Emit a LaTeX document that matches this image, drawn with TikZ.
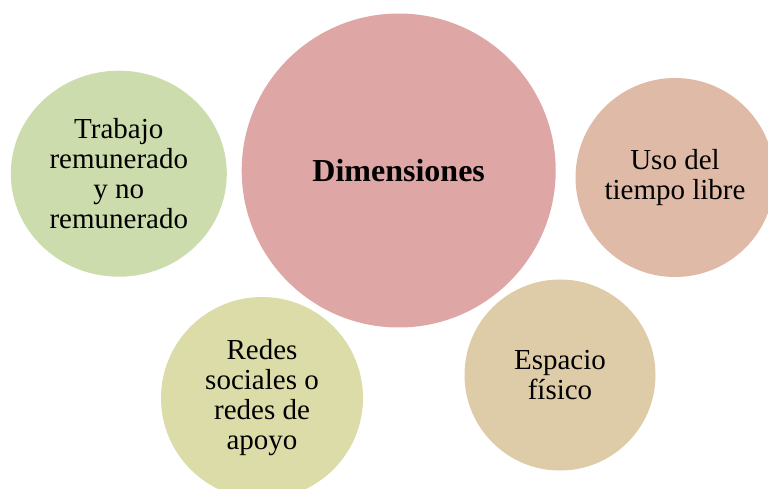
\documentclass[tikz,border=0pt]{standalone}
\usepackage{fontspec}
\setmainfont{Liberation Serif}
\usetikzlibrary{shapes.geometric}
\definecolor{cdim}{HTML}{DFA6A6}
\definecolor{ctrab}{HTML}{CDDCAC}
\definecolor{cuso}{HTML}{DFBAA6}
\definecolor{credes}{HTML}{DCDCA9}
\definecolor{cesp}{HTML}{DDCCA7}
\tikzset{
  bubble/.style={circle, inner sep=0pt, draw=none, align=center, text=black,
    font=\fontsize{29}{30}\selectfont},
}
\begin{document}
\begin{tikzpicture}[x=1pt,y=-1pt]
\useasboundingbox (0,0) rectangle (768,489);
\node[bubble, fill=cdim, minimum size=314pt, font=\fontsize{32}{33}\selectfont\bfseries] (dim) at (398.7,170.5) {Dimensiones};
\node[bubble, ellipse, fill=ctrab, minimum width=216pt, minimum height=206pt] (trab) at (118.8,173.7) {Trabajo\\remunerado\\y no\\remunerado};
\node[bubble, fill=cuso, minimum size=199pt] (uso) at (675,177.5) {Uso del\\tiempo libre};
\node[bubble, fill=credes, minimum size=202pt] (redes) at (262,398) {Redes\\sociales o\\redes de\\apoyo};
\node[bubble, fill=cesp, minimum size=191pt] (esp) at (560,375) {Espacio\\físico};
\end{tikzpicture}
\end{document}
